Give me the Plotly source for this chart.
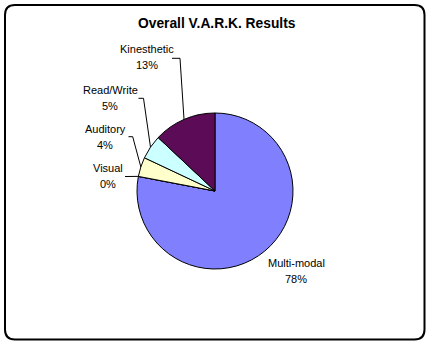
import math
import plotly.graph_objects as go

# ---- data ----
categories = ["Multi-modal", "Visual", "Auditory", "Read/Write", "Kinesthetic"]
values = [78, 0, 4, 5, 13]
colors = ["#8080FF", "#993366", "#FFFFCC", "#CCFFFF", "#5C0C56"]
title_text = "Overall V.A.R.K. Results"

W, H = 432, 346
CX, CY, R = 215, 191, 78  # pie centre / radius in px


def px(x):
    return x / W


def py(y):
    return 1 - y / H


fig = go.Figure()
fig.add_trace(go.Pie(
    labels=categories,
    values=values,
    sort=False,
    direction="clockwise",
    rotation=0,
    marker=dict(colors=colors, line=dict(color="black", width=1)),
    textinfo="none",
    hoverinfo="label+percent",
    showlegend=False,
    domain=dict(x=[px(CX - R), px(CX + R)], y=[py(CY + R), py(CY - R)]),
))

total = sum(values)
# label placement (text centre x, name-line y, percent-line y) and leader elbow
label_pos = {
    "Kinesthetic": (147, 49, 65),
    "Read/Write": (110, 90, 106),
    "Auditory": (105, 128.5, 144.5),
    "Visual": (108, 168, 184),
    "Multi-modal": (296, 262.5, 279),
}
leader = {
    "Kinesthetic": [(172, 58.3), (180, 58.3)],
    "Read/Write": [(138.5, 98.3), (143.5, 98.3)],
    "Auditory": [(128.5, 136.7), (132.7, 136.7)],
    "Visual": [(125, 176.5)],
}

annotations = []
shapes = []
cum = 0.0
for name, v in zip(categories, values):
    frac_mid = (cum + v / 2) / total
    cum += v
    pct = round(v / total * 100)
    lx, ly1, ly2 = label_pos[name]
    for txt, yy in ((name, ly1), (f"{pct}%", ly2)):
        annotations.append(dict(
            x=px(lx), y=py(yy), xref="paper", yref="paper",
            text=txt, showarrow=False, xanchor="center", yanchor="middle",
            font=dict(family="Liberation Sans, Arial", size=11, color="black"),
        ))
    if name in leader:
        ang = 2 * math.pi * frac_mid
        ex = CX + R * math.sin(ang)
        ey = CY - R * math.cos(ang)
        pts = leader[name] + [(ex, ey)]
        path = "M " + " L ".join(f"{px(x)},{py(y)}" for x, y in pts)
        shapes.append(dict(type="path", xref="paper", yref="paper", path=path,
                           line=dict(color="black", width=1)))

# title
annotations.append(dict(
    x=px(216.5), y=py(24), xref="paper", yref="paper", text=f"<b>{title_text}</b>",
    showarrow=False, xanchor="center", yanchor="middle",
    font=dict(family="Liberation Sans, Arial", size=13.8, color="black"),
))

# rounded border
x0, y0, x1, y1, rr = 5, 5, 424.5, 339.5, 10
pts = (f"M {px(x0 + rr)},{py(y0)} L {px(x1 - rr)},{py(y0)} "
       f"Q {px(x1)},{py(y0)} {px(x1)},{py(y0 + rr)} L {px(x1)},{py(y1 - rr)} "
       f"Q {px(x1)},{py(y1)} {px(x1 - rr)},{py(y1)} L {px(x0 + rr)},{py(y1)} "
       f"Q {px(x0)},{py(y1)} {px(x0)},{py(y1 - rr)} L {px(x0)},{py(y0 + rr)} "
       f"Q {px(x0)},{py(y0)} {px(x0 + rr)},{py(y0)} Z")
shapes.append(dict(type="path", xref="paper", yref="paper", path=pts,
                   line=dict(color="black", width=2), layer="below"))

fig.update_layout(
    width=W, height=H,
    margin=dict(l=0, r=0, t=0, b=0),
    paper_bgcolor="white", plot_bgcolor="white",
    annotations=annotations, shapes=shapes,
)
fig.write_html("out.html")
